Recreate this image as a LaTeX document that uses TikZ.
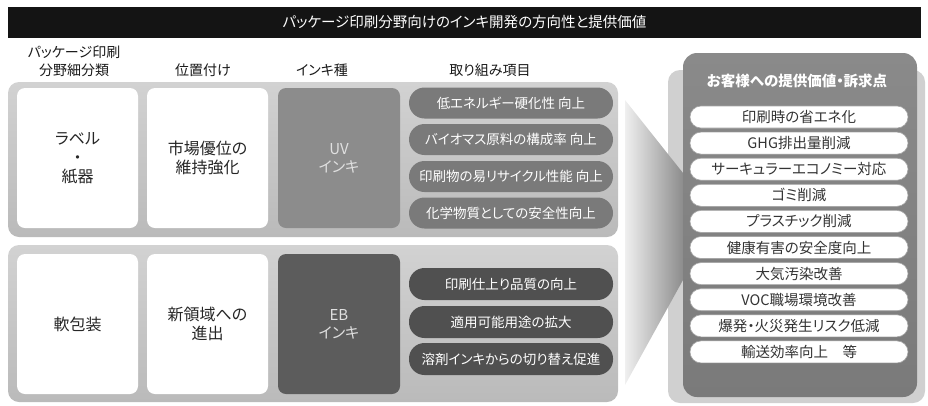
\documentclass[tikz,border=0pt]{standalone}
\usepackage{fontspec}
\setmainfont{Noto Sans CJK JP}[RawFeature=+palt]
\definecolor{panelA}{HTML}{D2D2D2}
\definecolor{panelB}{HTML}{BABABA}
\definecolor{uvgray}{HTML}{8C8C8C}
\definecolor{ebgray}{HTML}{5C5C5C}
\definecolor{pillA}{HTML}{7A7A7A}
\definecolor{pillB}{HTML}{505050}
\definecolor{mainA}{HTML}{8A8A8A}
\definecolor{mainB}{HTML}{7A7A7A}
\definecolor{shadowgray}{HTML}{D0D0D0}
\definecolor{txtdark}{HTML}{333333}
\begin{document}
\begin{tikzpicture}[x=1pt,y=-1pt,
  panelbox/.style={rounded corners=11pt, top color=panelA, bottom color=panelB, draw=none, minimum width=610pt, inner sep=0pt},
  whitebox/.style={rounded corners=8pt, fill=white, minimum width=121pt, minimum height=140pt, inner sep=0pt, align=center, font=\fontsize{16}{19}\selectfont, text=black!85},
  inkbox/.style={rounded corners=8pt, minimum width=122pt, minimum height=140pt, inner sep=0pt, align=center, font=\fontsize{15}{18}\selectfont, text=white!88!black},
  itempill/.style={rounded corners=15.5pt, minimum width=204pt, minimum height=31pt, inner sep=0pt, text=white, font=\fontsize{13.5}{16}\selectfont},
  valpill/.style={rounded corners=11pt, fill=white, draw=black!35, line width=0.6pt, minimum width=218pt, minimum height=22pt, inner sep=0pt, text=txtdark, font=\fontsize{14.5}{16}\selectfont},
  header/.style={align=center, font=\fontsize{14}{18}\selectfont, text=black!90, inner sep=0pt}]
\useasboundingbox (0,0) rectangle (928,405);
% title
\node[fill=black!92, minimum width=913pt, minimum height=31pt, inner sep=0pt, text=white, font=\fontsize{14.5}{17}\selectfont] (title) at (464.5,22.5) {パッケージ印刷分野向けのインキ開発の方向性と提供価値};
% headers
\node[header] (h1) at (74,61) {パッケージ印刷\\分野細分類};
\node[header] (h2) at (203,70) {位置付け};
\node[header] (h3) at (322,70) {インキ種};
\node[header] (h4) at (490,70) {取り組み項目};
% right panel
\node[rounded corners=12pt, fill=shadowgray, minimum width=257pt, minimum height=333pt, inner sep=0pt] (rshadow) at (796.5,236.5) {};
% funnel
\shade[left color=black!6, right color=black!45] (625,100) -- (683,173) -- (683,280) -- (625,385) -- cycle;
\node[rounded corners=14pt, top color=mainA, bottom color=mainB, minimum width=234pt, minimum height=344pt, inner sep=0pt] (rpanel) at (800,225) {};
\node[text=white, font=\bfseries\fontsize{14.5}{17}\selectfont, inner sep=0pt] (rhead) at (797,81) {お客様への提供価値・訴求点};
\node[valpill] (v1) at (799,117.0) {印刷時の省エネ化};
\node[valpill] (v2) at (799,143.1) {GHG排出量削減};
\node[valpill] (v3) at (799,169.2) {サーキュラーエコノミー対応};
\node[valpill] (v4) at (799,195.3) {ゴミ削減};
\node[valpill] (v5) at (799,221.4) {プラスチック削減};
\node[valpill] (v6) at (799,247.5) {健康有害の安全度向上};
\node[valpill] (v7) at (799,273.6) {大気汚染改善};
\node[valpill] (v8) at (799,299.7) {VOC職場環境改善};
\node[valpill] (v9) at (799,325.8) {爆発・火災発生リスク低減};
\node[valpill] (v10) at (799,351.9) {輸送効率向上\hspace{1em}等};
% top group
\node[panelbox, minimum height=155pt] (gtop) at (313,159.5) {};
\node[whitebox] (t1) at (77.5,158) {ラベル\\・\\紙器};
\node[whitebox] (t2) at (207.5,158) {市場優位の\\維持強化};
\node[inkbox, fill=uvgray] (t3) at (339,158) {UV\\インキ};
\node[itempill, fill=pillA] (p1) at (511,103) {低エネルギー硬化性 向上};
\node[itempill, fill=pillA] (p2) at (511,139.5) {バイオマス原料の構成率 向上};
\node[itempill, fill=pillA] (p3) at (511,176.5) {印刷物の易リサイクル性能 向上};
\node[itempill, fill=pillA] (p4) at (511,213) {化学物質としての安全性向上};
% bottom group
\node[panelbox, minimum height=157pt] (gbot) at (313,323.5) {};
\node[whitebox] (b1) at (77.5,324) {軟包装};
\node[whitebox] (b2) at (207.5,324) {新領域への\\進出};
\node[inkbox, fill=ebgray] (b3) at (339,324) {EB\\インキ};
\node[itempill, fill=pillB, minimum height=32pt] (q1) at (511,284) {印刷仕上り品質の向上};
\node[itempill, fill=pillB, minimum height=32pt] (q2) at (511,322) {適用可能用途の拡大};
\node[itempill, fill=pillB, minimum height=32pt] (q3) at (511,359) {溶剤インキからの切り替え促進};
\end{tikzpicture}
\end{document}
